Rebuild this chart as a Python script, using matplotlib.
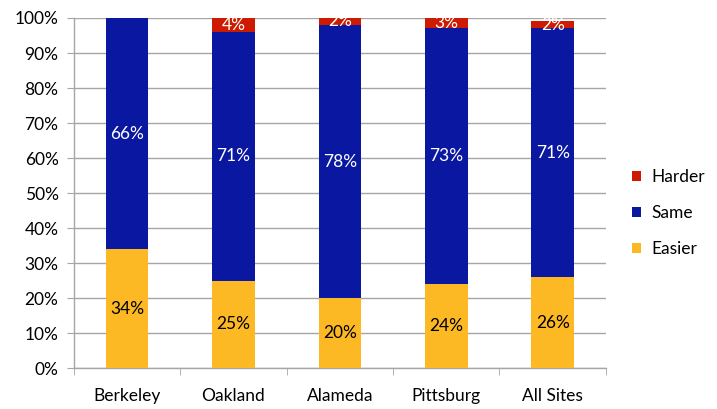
import numpy as np
import matplotlib.pyplot as plt
from matplotlib.ticker import FixedLocator, PercentFormatter

plt.rcParams['font.family'] = ['Lato', 'DejaVu Sans']

sites = ['Berkeley', 'Oakland', 'Alameda', 'Pittsburg', 'All Sites']
easier = [34, 25, 20, 24, 26]
same = [66, 71, 78, 73, 71]
harder = [0, 4, 2, 3, 2]

c_easier = '#FDB924'
c_same = '#0A17A0'
c_harder = '#CC1B00'
grid_c = '#A6A6A6'

fig = plt.figure(figsize=(7.17, 4.09), dpi=100)
ax = fig.add_axes([0.103, 0.10, 0.742, 0.856])

x = np.arange(len(sites))
w = 0.4
b1 = ax.bar(x, easier, w, color=c_easier, label='Easier', zorder=3)
b2 = ax.bar(x, same, w, bottom=easier, color=c_same, label='Same', zorder=3)
bottom3 = np.array(easier) + np.array(same)
b3 = ax.bar(x, harder, w, bottom=bottom3, color=c_harder, label='Harder', zorder=3)

for i in range(len(sites)):
    ax.text(x[i], easier[i] / 2, f'{easier[i]}%', ha='center', va='center',
            fontsize=12.5, color='black', zorder=4)
    ax.text(x[i], easier[i] + same[i] / 2, f'{same[i]}%', ha='center', va='center',
            fontsize=12.5, color='white', zorder=4)
    if harder[i] > 0:
        ax.text(x[i], bottom3[i] + harder[i] / 2, f'{harder[i]}%', ha='center',
                va='center', fontsize=12.5, color='white', zorder=4)

ax.set_ylim(0, 100)
ax.set_xlim(-0.5, len(sites) - 0.5)
ax.set_yticks(np.arange(0, 101, 10))
ax.yaxis.set_major_formatter(PercentFormatter(decimals=0))
ax.yaxis.grid(True, color=grid_c, linewidth=1, zorder=0)

ax.set_xticks(x)
ax.set_xticklabels(sites)
ax.xaxis.set_minor_locator(FixedLocator(np.arange(-0.5, len(sites), 1.0)))
ax.tick_params(axis='x', which='major', length=0, pad=14, labelsize=12.5)
ax.tick_params(axis='x', which='minor', length=5, color=grid_c, direction='out')
ax.tick_params(axis='y', length=5, color=grid_c, labelsize=12.5, pad=6)

for s in ['top', 'right']:
    ax.spines[s].set_visible(False)
for s in ['left', 'bottom']:
    ax.spines[s].set_color(grid_c)
    ax.spines[s].set_linewidth(1)

handles = [b3, b2, b1]
ax.legend(handles, ['Harder', 'Same', 'Easier'], loc='center left',
          bbox_to_anchor=(1.02, 0.443), frameon=False, fontsize=12.5,
          handlelength=0.5, handleheight=0.5, labelspacing=1.15, handletextpad=0.6)

fig.savefig('out.png', dpi=100)
